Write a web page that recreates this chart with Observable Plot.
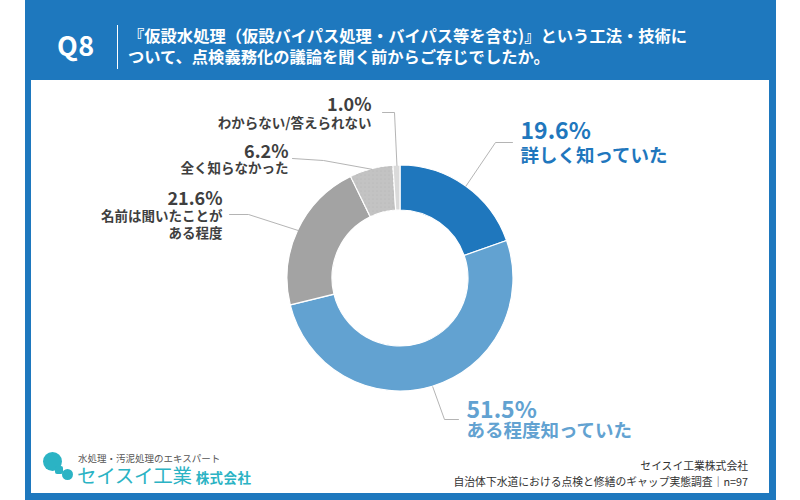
<!DOCTYPE html>
<html>
<head>
<meta charset="utf-8">
<script src="https://cdn.jsdelivr.net/npm/d3@7"></script>
<script src="https://cdn.jsdelivr.net/npm/@observablehq/plot@0.6"></script>
<style>
  body { margin: 0; background: #fff; font-family: "Noto Sans CJK JP", "Noto Sans", sans-serif; }
  #page { position: relative; width: 800px; height: 500px; overflow: hidden; background: #fff; }
  #frame { position: absolute; left: 25px; top: 0; width: 751px; height: 500px; background: #1e78be; }
  #panel { position: absolute; left: 31px; top: 80px; width: 738px; height: 413px; background: #fff; }
  #q { position: absolute; left: 57px; top: 27px; color: #fff; font-weight: 700; font-size: 27px; line-height: 36px; letter-spacing: 0.5px; }
  #divider { position: absolute; left: 117px; top: 25px; width: 1px; height: 44px; background: #fff; }
  #title { position: absolute; left: 128px; top: 25px; color: #fff; font-weight: 700; font-size: 16.3px; line-height: 21px; white-space: nowrap; }
  #chart { position: absolute; left: 0; top: 0; }
  #logo-tag { position: absolute; left: 78px; top: 453px; font-size: 9.5px; color: #555; line-height: 10px; white-space: nowrap; }
  #logo-name { position: absolute; left: 77px; top: 465px; font-size: 19.5px; color: #2bb3c4; line-height: 20px; white-space: nowrap; letter-spacing: -0.3px; }
  #logo-name span { font-size: 13.5px; font-weight: 700; margin-left: 4px; letter-spacing: 0.5px; }
  .blob { position: absolute; border-radius: 50%; background: #2bb3c4; }
  #source { position: absolute; right: 52px; top: 458px; text-align: right; font-size: 10.8px; line-height: 15.5px; color: #333; white-space: nowrap; }
</style>
</head>
<body>
<div id="page">
  <div id="frame"></div>
  <div id="panel"></div>
  <div id="q">Q8</div>
  <div id="divider"></div>
  <div id="title">『仮設水処理（仮設バイパス処理・バイパス等を含む)』という工法・技術に<br>ついて、点検義務化の議論を聞く前からご存じでしたか。</div>
  <div class="blob" style="left:43px;top:452px;width:19px;height:19px;"></div>
  <div class="blob" style="left:55px;top:466px;width:8px;height:8px;border-radius:2px;"></div>
  <div class="blob" style="left:62px;top:469px;width:11px;height:11px;"></div>
  <div id="logo-tag">水処理・汚泥処理のエキスパート</div>
  <div id="logo-name">セイスイ工業<span>株式会社</span></div>
  <div id="source">セイスイ工業株式会社<br>自治体下水道における点検と修繕のギャップ実態調査｜n=97</div>
  <div id="chart"></div>
</div>
<script>
// ---- data ----
const categories = ["詳しく知っていた", "ある程度知っていた", "名前は聞いたことがある程度", "全く知らなかった", "わからない/答えられない"];
const percentages = [19.6, 51.5, 21.6, 6.2, 1.0];
const valueLabels = ["19.6%", "51.5%", "21.6%", "6.2%", "1.0%"];
const labelLines = [["詳しく知っていた"], ["ある程度知っていた"], ["名前は聞いたことが", "ある程度"], ["全く知らなかった"], ["わからない/答えられない"]];

// ---- styles / layout ----
const sliceColors = ["#1f77bd", "#62a2d1", "#a3a3a3", "#c3c3c3", "#dadada"];
const valueColors = ["#1f77bd", "#62a2d1", "#3f3f3f", "#3f3f3f", "#3f3f3f"];
const center = {x: 400, y: 278};
const rOuter = 113, rInner = 68;
const labelLayout = [
  {x: 520, anchor: "start", valueY: 138, lineYs: [161], valueSize: 23, lineSize: 18.5},
  {x: 466, anchor: "start", valueY: 417, lineYs: [436], valueSize: 23, lineSize: 18.5},
  {x: 222, anchor: "end", valueY: 204, lineYs: [220, 237], valueSize: 18, lineSize: 13.5},
  {x: 288, anchor: "end", valueY: 157, lineYs: [172], valueSize: 18, lineSize: 13.5},
  {x: 371, anchor: "end", valueY: 110, lineYs: [127], valueSize: 18, lineSize: 13.5}
];
const leaderBends = [
  [[495, 142], [512, 142]],
  [[444, 419], [458, 419]],
  [[248, 214], [229, 214]],
  [[323, 160], [292, 158]],
  [[394, 112], [382, 112]]
];

const rows = categories.map((c, i) => ({category: c, value: percentages[i], i}));
const arcs = d3.pie().sort(null).value(d => d.value)(rows);

// leader lines: from ring edge at slice mid-angle through bends
const leaderPts = [];
arcs.forEach((a, i) => {
  const m = (a.startAngle + a.endAngle) / 2;
  leaderPts.push({k: i, x: center.x + rOuter * Math.sin(m), y: center.y - rOuter * Math.cos(m)});
  leaderBends[i].forEach(([x, y]) => leaderPts.push({k: i, x, y}));
});

const textRows = [];
rows.forEach((r, i) => {
  const L = labelLayout[i];
  textRows.push({x: L.x, y: L.valueY, text: valueLabels[i], anchor: L.anchor, size: L.valueSize, color: valueColors[i]});
  labelLines[i].forEach((t, j) => textRows.push({x: L.x, y: L.lineYs[j], text: t, anchor: L.anchor, size: L.lineSize, color: valueColors[i]}));
});

function donut(index, scales, values, dimensions, context) {
  const g = d3.create("svg:g");
  const defs = g.append("defs");
  const pat = defs.append("pattern").attr("id", "dots").attr("width", 4).attr("height", 4).attr("patternUnits", "userSpaceOnUse");
  pat.append("circle").attr("cx", 1).attr("cy", 1).attr("r", 0.5).attr("fill", "#b0b0b0");
  const cx = scales.x(center.x), cy = scales.y(center.y);
  const ro = scales.x(center.x + rOuter) - cx, ri = scales.x(center.x + rInner) - cx;
  const arc = d3.arc().innerRadius(ri).outerRadius(ro);
  const gg = g.append("g").attr("transform", `translate(${cx},${cy})`);
  gg.selectAll("path.s").data(arcs).join("path").attr("class", "s")
    .attr("d", arc).attr("fill", d => sliceColors[d.data.i])
    .attr("stroke", "#fff").attr("stroke-width", 1.2);
  gg.append("path").attr("d", arc(arcs[3])).attr("fill", "url(#dots)");
  return g.node();
}

const textOpts = {x: "x", y: "y", text: "text", fontSize: d => d.size, fill: "color", fontWeight: 700, lineAnchor: "bottom"};

const chart = Plot.plot({
  width: 800,
  height: 500,
  margin: 0,
  x: {domain: [0, 800], range: [0, 800], axis: null},
  y: {domain: [0, 500], range: [0, 500], axis: null},
  color: {type: "identity"},
  style: {background: "transparent", fontFamily: "'Noto Sans CJK JP', sans-serif", overflow: "visible"},
  marks: [
    donut,
    Plot.line(leaderPts, {x: "x", y: "y", z: "k", stroke: "#ababab", strokeWidth: 0.9}),
    Plot.text(textRows.filter(d => d.anchor === "start"), {...textOpts, textAnchor: "start"}),
    Plot.text(textRows.filter(d => d.anchor === "end"), {...textOpts, textAnchor: "end"})
  ]
});
document.getElementById("chart").appendChild(chart);
</script>
</body>
</html>
